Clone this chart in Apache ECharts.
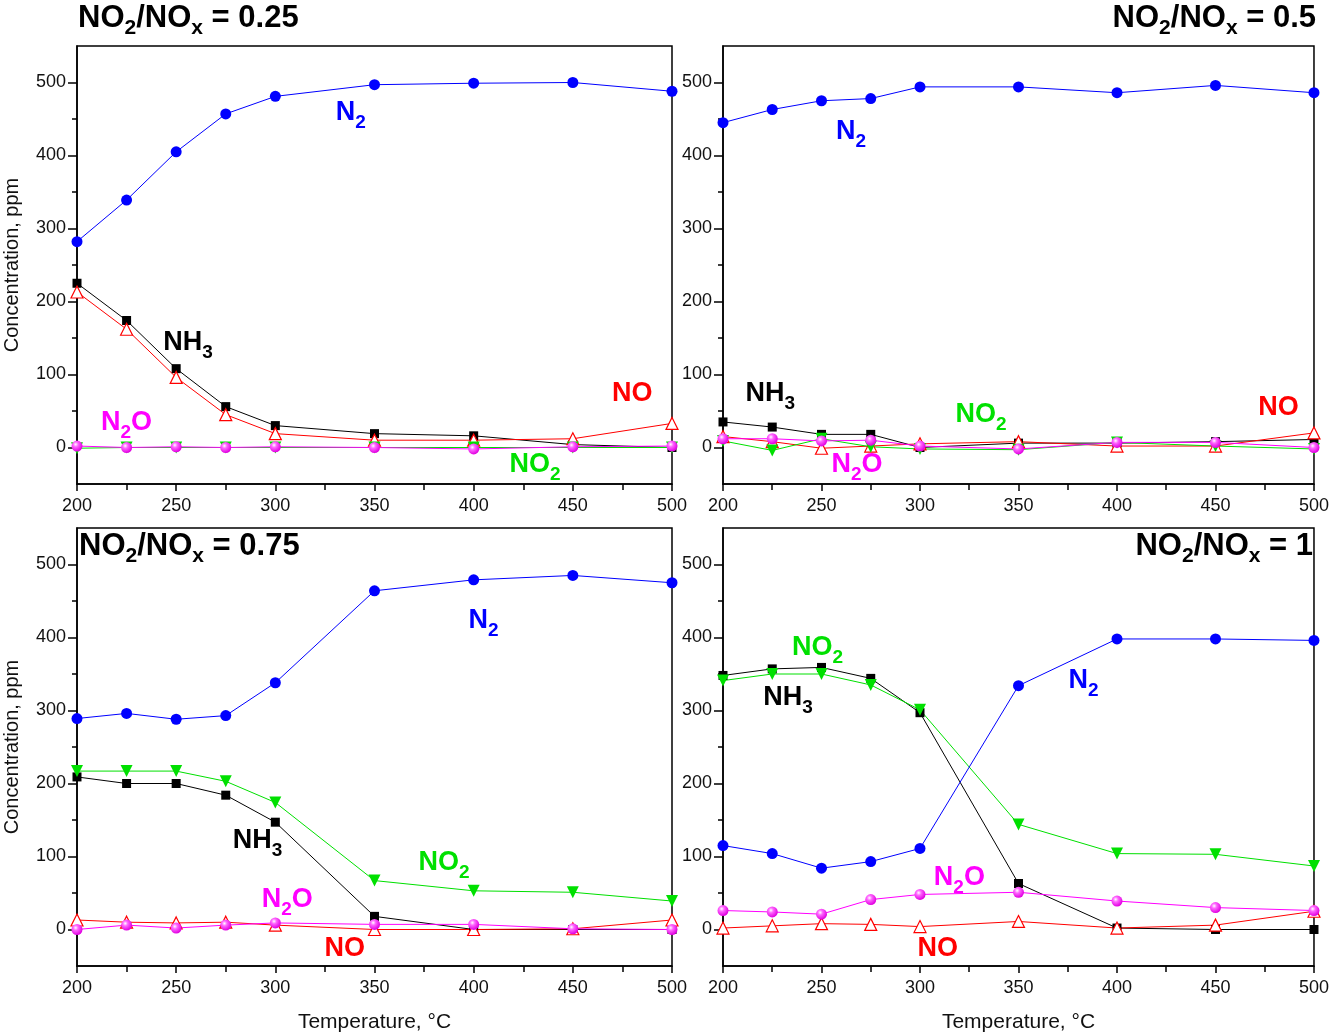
<!DOCTYPE html>
<html>
<head>
<meta charset="utf-8">
<script src="https://cdn.jsdelivr.net/npm/echarts@6/dist/echarts.min.js"></script>
<style>html,body{margin:0;padding:0;background:#fff;}#c{width:1332px;height:1034px;}</style>
</head>
<body>
<div id="c"></div>
<script>
// ---- data ----
const temps = [200, 225, 250, 275, 300, 350, 400, 450, 500];
const yTickLabels = [0, 100, 200, 300, 400, 500];
const yMinorTicks = [50, 150, 250, 350, 450];
const titles = ['0.25', '0.5', '0.75', '1'];

// NO2/NOx = 0.25
const p1_N2  = [282, 339, 405, 457, 481, 497, 499, 500, 488];
const p1_NH3 = [225, 174, 108, 56, 30, 19, 16, 4, 0];
const p1_NO  = [213, 162, 96, 45, 19, 10, 10, 12, 33];
const p1_NO2 = [-1, 0, 0, 0, 0, 0, 0, 0, 0];
const p1_N2O = [2, 0, 1, 0, 1, 0, -2, 1, 2];

// NO2/NOx = 0.5
const p2_N2  = [445, 463, 475, 478, 494, 494, 486, 496, 486];
const p2_NH3 = [35, 28, 18, 18, 0, 6, 6, 8, 11];
const p2_NO  = [15, 8, -1, 2, 5, 8, 2, 2, 20];
const p2_NO2 = [9, -4, 12, 1, -2, -3, 7, 2, -2];
const p2_N2O = [12, 12, 9, 10, 2, -2, 7, 7, 0];

// NO2/NOx = 0.75
const p3_N2  = [289, 296, 288, 293, 338, 464, 479, 485, 475];
const p3_NH3 = [209, 200, 200, 184, 147, 18, 0, 0, 0];
const p3_NO  = [13, 10, 9, 10, 6, 0, 0, 1, 13];
const p3_NO2 = [217, 217, 217, 203, 174, 67, 53, 51, 39];
const p3_N2O = [0, 6, 2, 6, 9, 7, 7, 1, 0];

// NO2/NOx = 1
const p4_N2  = [115, 104, 84, 93, 111, 334, 398, 398, 396];
const p4_NH3 = [348, 357, 359, 344, 297, 63, 2, 0, 0];
const p4_NO  = [2, 5, 8, 7, 4, 11, 2, 6, 25];
const p4_NO2 = [341, 350, 350, 335, 301, 144, 104, 103, 87];
const p4_N2O = [26, 24, 21, 41, 48, 51, 39, 30, 26];

// species annotations: [name, temperature, concentration]
const p1_labels = [['N2', 338, 459], ['NH3', 256, 144], ['NO', 480, 74], ['N2O', 225, 34], ['NO2', 431, -23]];
const p2_labels = [['N2', 265, 433], ['NH3', 224, 74], ['NO2', 331, 45], ['NO', 482, 55], ['N2O', 268, -23]];
const p3_labels = [['N2', 405, 423], ['NH3', 291, 122], ['NO2', 385, 92], ['N2O', 306, 41], ['NO', 335, -26]];
const p4_labels = [['NO2', 248, 386], ['NH3', 233, 318], ['N2', 383, 341], ['N2O', 320, 71], ['NO', 309, -26]];

// ---- chart ----
const panels = [
  {N2: p1_N2, NH3: p1_NH3, NO: p1_NO, NO2: p1_NO2, N2O: p1_N2O, labels: p1_labels},
  {N2: p2_N2, NH3: p2_NH3, NO: p2_NO, NO2: p2_NO2, N2O: p2_N2O, labels: p2_labels},
  {N2: p3_N2, NH3: p3_NH3, NO: p3_NO, NO2: p3_NO2, N2O: p3_N2O, labels: p3_labels},
  {N2: p4_N2, NH3: p4_NH3, NO: p4_NO, NO2: p4_NO2, N2O: p4_N2O, labels: p4_labels}
];

const FONT = 'Liberation Sans, Arial, sans-serif';
const colors = {N2: '#0000ff', NH3: '#000000', NO: '#ff0000', NO2: '#00e000', N2O: '#ff00ff'};
const richText = {N2: 'N{s|2}', NH3: 'NH{s|3}', NO: 'NO', NO2: 'NO{s|2}', N2O: 'N{s|2}O'};

const gridPos = [
  {left: 77, top: 46}, {left: 723, top: 46},
  {left: 77, top: 528}, {left: 723, top: 528}
];

const grids = gridPos.map(g => ({left: g.left, top: g.top, width: 595, height: 438,
  show: true, borderColor: '#000', borderWidth: 1.5, backgroundColor: 'transparent'}));

const xAxes = [], yAxes = [], series = [];
panels.forEach((p, i) => {
  const bottom = i >= 2;
  xAxes.push({
    type: 'value', gridIndex: i, min: 200, max: 500, interval: 50,
    axisLine: {show: true, onZero: false, lineStyle: {color: '#000', width: 1.5}},
    axisTick: {show: true, length: 7, lineStyle: {color: '#000', width: 1.5}},
    minorTick: {show: true, splitNumber: 2, length: 6, lineStyle: {color: '#000', width: 1.5}},
    splitLine: {show: false}, minorSplitLine: {show: false},
    axisLabel: {fontSize: 18, color: '#111', margin: 13, fontFamily: FONT},
    name: bottom ? 'Temperature, °C' : '', nameLocation: 'middle', nameGap: 46,
    nameTextStyle: {fontSize: 21, color: '#111', fontFamily: FONT}
  });
  const left = i % 2 === 0;
  yAxes.push({
    type: 'value', gridIndex: i, min: -50, max: 550, interval: 50,
    axisLine: {show: true, onZero: false, lineStyle: {color: '#000', width: 1.5}},
    axisTick: {show: true, length: 9, customValues: yTickLabels, lineStyle: {color: '#000', width: 1.5}},
    splitLine: {show: false},
    axisLabel: {fontSize: 18, color: '#111', margin: 11, fontFamily: FONT, customValues: yTickLabels},
    name: left ? 'Concentration, ppm' : '', nameLocation: 'middle', nameGap: 55,
    nameTextStyle: {fontSize: 20, color: '#111', fontFamily: FONT}
  });
  yAxes.push({
    type: 'value', gridIndex: i, min: -50, max: 550, interval: 50, position: 'left',
    axisLine: {show: false},
    axisTick: {show: true, length: 5, customValues: yMinorTicks, lineStyle: {color: '#000', width: 1.5}},
    splitLine: {show: false},
    axisLabel: {show: false}
  });
  const yi = i * 2;
  const mk = (key, extra) => Object.assign({
    type: 'line', name: key, xAxisIndex: i, yAxisIndex: yi,
    data: temps.map((t, k) => [t, p[key][k]]),
    lineStyle: {color: colors[key], width: 1},
    itemStyle: {color: colors[key]},
    showAllSymbol: true, animation: false, z: 3
  }, extra);
  series.push(mk('NH3', {symbol: 'rect', symbolSize: 9}));
  series.push(mk('NO', {symbol: 'triangle', symbolSize: 12,
    itemStyle: {color: '#fff', borderColor: colors.NO, borderWidth: 1.2}}));
  series.push(mk('NO2', {symbol: 'triangle', symbolRotate: 180, symbolSize: 12}));
  series.push(mk('N2O', {symbol: 'circle', symbolSize: 11,
    itemStyle: {color: {type: 'radial', x: 0.38, y: 0.35, r: 0.65, colorStops: [
      {offset: 0, color: '#ffffff'}, {offset: 0.35, color: '#ff66ff'}, {offset: 1, color: '#e000e0'}]}}}));
  series.push(mk('N2', {symbol: 'circle', symbolSize: 11}));
  // species labels
  series.push({
    type: 'scatter', xAxisIndex: i, yAxisIndex: yi, symbolSize: 0, silent: true, animation: false, z: 5,
    itemStyle: {opacity: 1},
    data: p.labels.map(l => ({name: l[0], value: [l[1], l[2]],
      label: {color: colors[l[0]], rich: {s: {color: colors[l[0]], fontSize: 19, fontWeight: 'bold',
        fontFamily: FONT, lineHeight: 14, padding: [20, 0, 0, 0], textBorderWidth: 0}}}})),
    label: {show: true, position: 'inside', opacity: 1, textBorderWidth: 0, textBorderColor: 'transparent',
      formatter: d => richText[d.name],
      fontSize: 27, fontWeight: 'bold', fontFamily: FONT
    }
  });
});

const titleRich = {s: {fontSize: 21, fontWeight: 'bold', fontFamily: FONT, color: '#000', lineHeight: 14, padding: [20, 0, 0, 0]}};
const titleStyle = {fontSize: 31, fontWeight: 'bold', color: '#000', fontFamily: FONT, rich: titleRich};
const titleComps = [
  {text: 'NO{s|2}/NO{s|x} = ' + titles[0], left: 78, top: 3, textStyle: titleStyle, padding: 0},
  {text: 'NO{s|2}/NO{s|x} = ' + titles[1], right: 16, top: 3, textStyle: titleStyle, padding: 0},
  {text: 'NO{s|2}/NO{s|x} = ' + titles[2], left: 79, top: 531, textStyle: titleStyle, padding: 0},
  {text: 'NO{s|2}/NO{s|x} = ' + titles[3], right: 19, top: 531, textStyle: titleStyle, padding: 0}
];

const chart = echarts.init(document.getElementById('c'), null, {renderer: 'canvas'});
chart.setOption({
  animation: false,
  backgroundColor: '#fff',
  title: titleComps,
  grid: grids,
  xAxis: xAxes,
  yAxis: yAxes,
  series: series
});
</script>
</body>
</html>
